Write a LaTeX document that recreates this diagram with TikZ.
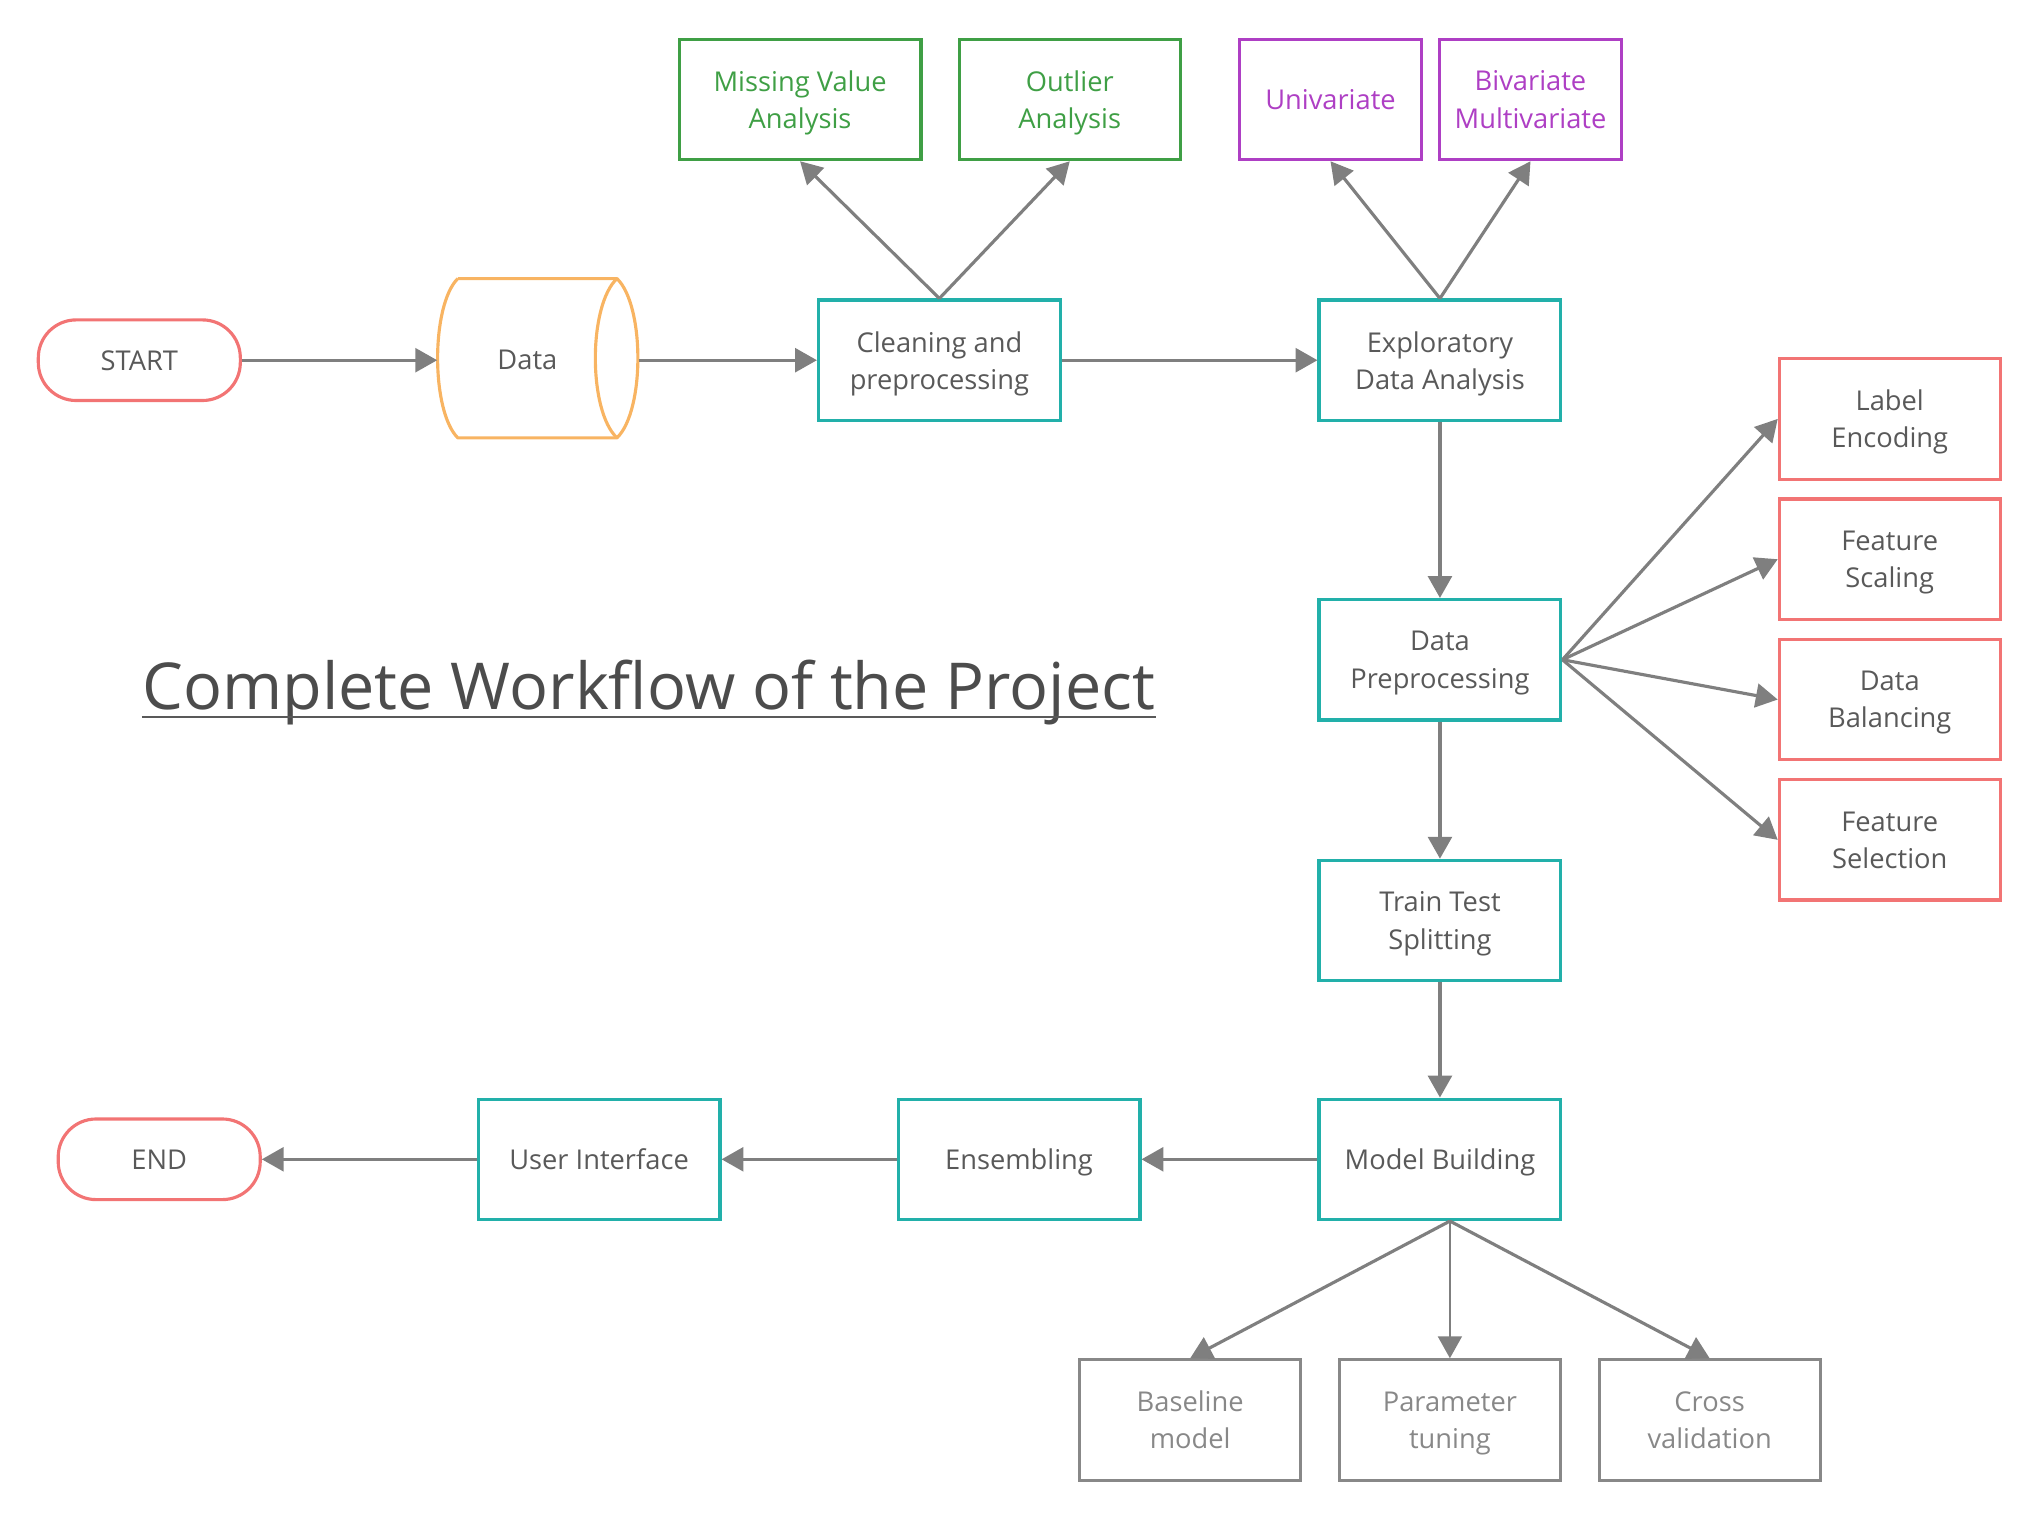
\documentclass[tikz,border=0pt]{standalone}
\usepackage{fontspec}
\setmainfont{Open Sans}
\usetikzlibrary{arrows.meta}

\definecolor{boxteal}{HTML}{22B0AA}
\definecolor{termred}{HTML}{F27474}
\definecolor{storeorange}{HTML}{F8B462}
\definecolor{cleangreen}{HTML}{3F9F45}
\definecolor{edapurple}{HTML}{AE3FC4}
\definecolor{arrowgray}{HTML}{7F7F7F}
\definecolor{textgray}{HTML}{595959}
\definecolor{softgray}{HTML}{888888}

\begin{document}
\begin{tikzpicture}[
    % Common Styles
    box_text/.style={
        align=center,
        font=\fontsize{7.8}{10.6}\selectfont,
        text=textgray,
        text depth=0pt
    },
    process/.style={
        box_text,
        draw=boxteal,
        line width=0.9pt,
        minimum width=2.43cm,
        minimum height=1.21cm
    },
    terminal/.style={
        box_text,
        draw=termred,
        line width=0.9pt,
        rounded corners=0.38cm,
        minimum width=2.03cm,
        minimum height=0.81cm
    },
    clean_sub/.style={
        process,
        draw=cleangreen,
        text=cleangreen
    },
    eda_sub/.style={
        process,
        draw=edapurple,
        text=edapurple,
        minimum width=1.83cm
    },
    prep_sub/.style={
        process,
        draw=termred,
        minimum width=2.22cm
    },
    model_sub/.style={
        process,
        draw=softgray,
        text=softgray,
        minimum width=2.22cm
    },
    flow/.style={
        draw=arrowgray,
        line width=0.9pt,
        -{Triangle[length=0.22cm, width=0.24cm]}
    },
    title_text/.style={
        font=\fontsize{18.5}{22}\selectfont,
        text=textgray!85!black,
        inner sep=0pt,
        anchor=base
    }
]

    \useasboundingbox (0,-0.08) rectangle (20.50,15.20);

    % ================= MAIN ROW =================
    \node[terminal] (start) at (1.40, 11.58) {START};

    % Data store (drawn by hand round an empty node)
    \node[box_text, minimum width=1.80cm, minimum height=1.60cm] (data) at (5.30, 11.58) {Data};
    \draw[storeorange, line width=0.9pt, line join=round]
        (4.60,12.40) -- (6.20,12.40)
        .. controls (6.48,12.13) and (6.48,11.07) .. (6.20,10.80)
        -- (4.60,10.80)
        .. controls (4.33,11.07) and (4.33,12.13) .. (4.60,12.40);
    \draw[storeorange, line width=0.9pt]
        (6.20,12.40) .. controls (5.91,12.13) and (5.91,11.07) .. (6.20,10.80);

    \node[process] (clean) at (9.44, 11.58) {Cleaning and\\preprocessing};
    \node[process] (eda) at (14.47, 11.58) {Exploratory\\Data Analysis};

    \draw[flow] (start.east) -- (data.west);
    \draw[flow, shorten <=0.21cm] (data.east) -- (clean.west);
    \draw[flow] (clean.east) -- (eda.west);

    % ================= TOP BRANCHES =================
    \node[clean_sub] (missing) at (8.04, 14.20) {Missing Value\\Analysis};
    \node[clean_sub, minimum width=2.22cm] (outlier) at (10.75, 14.20) {Outlier\\Analysis};
    \node[eda_sub] (uni) at (13.37, 14.20) {Univariate};
    \node[eda_sub] (bimulti) at (15.38, 14.20) {Bivariate\\Multivariate};

    \draw[flow] (clean.north) -- (missing.south);
    \draw[flow] (clean.north) -- (outlier.south);
    \draw[flow] (eda.north) -- (uni.south);
    \draw[flow] (eda.north) -- (bimulti.south);

    % ================= RIGHT COLUMN =================
    \node[process] (prep) at (14.47, 8.57) {Data\\Preprocessing};
    \node[process] (split) at (14.47, 5.95) {Train Test\\Splitting};
    \node[process] (model) at (14.47, 3.55) {Model Building};

    \draw[flow] (eda.south) -- (prep.north);
    \draw[flow] (prep.south) -- (split.north);
    \draw[flow] (split.south) -- (model.north);

    % Preprocessing steps
    \node[prep_sub] (labenc) at (18.99, 10.99) {Label\\Encoding};
    \node[prep_sub] (scaling) at (18.99, 9.58) {Feature\\Scaling};
    \node[prep_sub] (balance) at (18.99, 8.17) {Data\\Balancing};
    \node[prep_sub] (select) at (18.99, 6.76) {Feature\\Selection};

    \foreach \s in {labenc, scaling, balance, select} {
        \draw[flow] (prep.east) -- (\s.west);
    }

    % ================= BOTTOM ROW =================
    \node[process] (ensemble) at (10.24, 3.55) {Ensembling};
    \node[process] (ui) at (6.02, 3.55) {User Interface};
    \node[terminal] (end) at (1.60, 3.55) {END};

    \draw[flow] (model.west) -- (ensemble.east);
    \draw[flow] (ensemble.west) -- (ui.east);
    \draw[flow] (ui.west) -- (end.east);

    % Modelling steps
    \node[model_sub] (baseline) at (11.96, 0.93) {Baseline\\model};
    \node[model_sub] (tuning) at (14.57, 0.93) {Parameter\\tuning};
    \node[model_sub] (crossval) at (17.18, 0.93) {Cross\\validation};

    \coordinate (fork) at (model.south -| tuning.north);
    \draw[flow] (fork) -- (baseline.north);
    \draw[flow, line width=0.6pt] (fork) -- (tuning.north);
    \draw[flow] (fork) -- (crossval.north);

    % ================= TITLE =================
    \node[title_text] (title) at (6.52, 8.07) {Complete Workflow of the Project};
    \draw[textgray, line width=0.6pt]
        ([yshift=-2.2pt]title.base west) -- ([yshift=-2.2pt]title.base east);

\end{tikzpicture}
\end{document}
